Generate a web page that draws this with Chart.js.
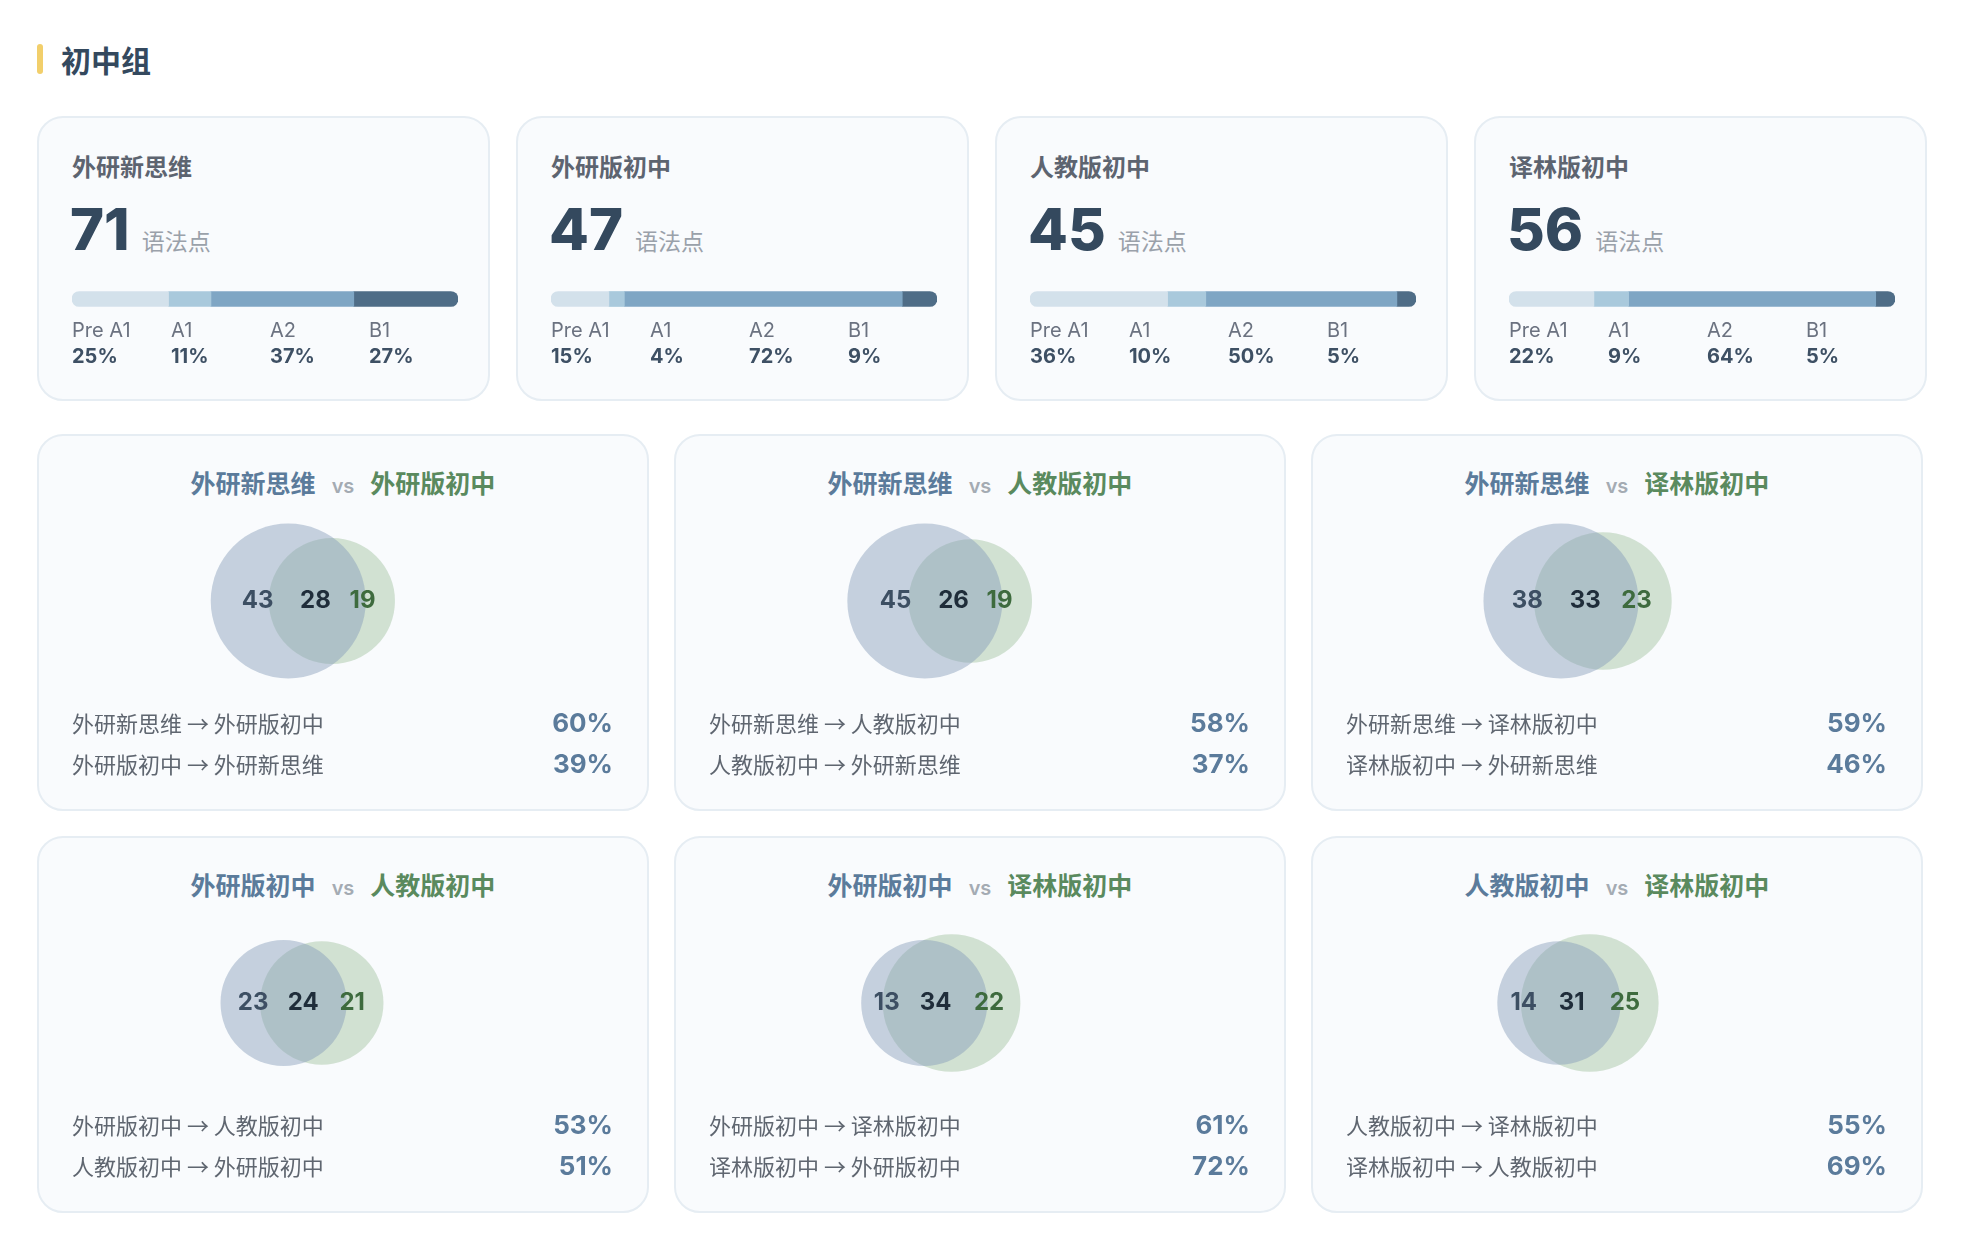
<!DOCTYPE html>
<html><head><meta charset="utf-8">
<script src="https://cdn.jsdelivr.net/npm/chart.js@4"></script>
<style>
*{box-sizing:border-box;margin:0;padding:0}
body{width:1962px;height:1250px;background:#fff;font-family:Inter,"Noto Sans CJK SC",sans-serif;position:relative;overflow:hidden}
.h{position:absolute;left:37px;top:42px;height:34px;display:flex;align-items:center}
.h i{display:block;width:6px;height:30px;border-radius:3px;background:#f2cf6b;margin-right:18px}
.h span{font-size:30px;font-weight:700;color:#34495e;font-family:"Noto Sans CJK SC"}
.card{position:absolute;background:#f9fbfd;border:2px solid #e6edf3;border-radius:26px}
.t{position:absolute;left:33px;top:30px;font-size:24px;font-weight:700;color:#5d6470;font-family:"Noto Sans CJK SC"}
.num{position:absolute;left:31px;top:76px;font-size:58px;font-weight:800;color:#34495e;line-height:70px}
.unit{font-size:23px;font-weight:400;color:#9aa1aa;margin-left:12px;font-family:"Noto Sans CJK SC"}
.bar{position:absolute;left:33px;top:156px;width:386px;height:50px}
.lv{position:absolute;top:200px;font-size:20px;color:#6b7280}
.pc{position:absolute;top:226px;font-size:20px;font-weight:700;color:#3e5064}
.vt{position:absolute;left:0;right:0;top:28px;text-align:center;font-size:25px;font-weight:700;font-family:"Noto Sans CJK SC"}
.vt .a{color:#5b7b9b}.vt .b{color:#5a8a5e}.vt .v{color:#a4abb3;font-size:20px;font-weight:600;margin:0 16px;font-family:Inter}
.vc{position:absolute;left:0;top:55px;width:612px;height:220px}
.row{position:absolute;left:33px;right:34px;display:flex;justify-content:space-between;align-items:center}
.row .l{font-size:22px;color:#5f6670;font-family:"Noto Sans CJK SC"}
.row .r{font-size:26px;font-weight:700;color:#5b7b9b}
</style></head><body>
<div class="h"><i></i><span>初中组</span></div>
<div id="root"></div>
<script>
const books = ["外研新思维","外研版初中","人教版初中","译林版初中"];
const totals = [71,47,45,56];
const levels = ["Pre A1","A1","A2","B1"];
const levelPct = [[25,11,37,27],[15,4,72,9],[36,10,50,5],[22,9,64,5]];
const levelColors = ["#d3e1eb","#a9c9dc","#7fa6c4","#4f6d87"];
const pairs = [[0,1],[0,2],[0,3],[1,2],[1,3],[2,3]];
const overlaps = [28,26,33,24,34,31];
const coverAB = [60,58,59,53,61,55];
const coverBA = [39,37,46,51,72,69];

const root=document.getElementById('root');
const K=9.2;
function el(tag,cls,parent,html){const e=document.createElement(tag);if(cls)e.className=cls;if(html!=null)e.innerHTML=html;parent.appendChild(e);return e;}

books.forEach((b,i)=>{
  const c=el('div','card',root);
  c.style.left=(37+i*479)+'px';c.style.top='116px';c.style.width='453px';c.style.height='285px';
  el('div','t',c,b);
  el('div','num',c,totals[i]+'<span class="unit">语法点</span>');
  const bw=el('div','bar',c);const cv=el('canvas',null,bw);cv.width=386;cv.height=50;
  levels.forEach((lv,j)=>{
    const a=el('div','lv',c,lv);a.style.left=(33+j*99)+'px';
    const p=el('div','pc',c,levelPct[i][j]+'%');p.style.left=(33+j*99)+'px';
  });
  const n=levels.length;
  new Chart(cv,{type:'bar',data:{labels:[''],datasets:levels.map((lv,j)=>({label:lv,data:[levelPct[i][j]],backgroundColor:levelColors[j],borderSkipped:false,
    borderRadius: j===0?{topLeft:8,bottomLeft:8}:(j===n-1?{topRight:8,bottomRight:8}:0),barThickness:15}))},
    options:{indexAxis:'y',responsive:false,animation:false,maintainAspectRatio:false,layout:{padding:0},
      plugins:{legend:{display:false},tooltip:{enabled:false}},
      scales:{x:{stacked:true,display:false,min:0,max:levelPct[i].reduce((s,v)=>s+v,0)},y:{stacked:true,display:false}}}});
});

function lens(r1,r2,d){
  if(d>=r1+r2)return 0; if(d<=Math.abs(r1-r2))return Math.PI*Math.min(r1,r2)**2;
  const a=r1*r1*Math.acos((d*d+r1*r1-r2*r2)/(2*d*r1)), b=r2*r2*Math.acos((d*d+r2*r2-r1*r1)/(2*d*r2));
  return a+b-0.5*Math.sqrt((-d+r1+r2)*(d+r1-r2)*(d-r1+r2)*(d+r1+r2));
}
const vennLabels={id:'vl',afterDatasetsDraw(ch){
  const o=ch.options.plugins.vl, xs=ch.scales.x, ys=ch.scales.y, ctx=ch.ctx;
  ctx.save();ctx.font='700 24px Inter';ctx.textAlign='center';ctx.textBaseline='middle';
  const y=ys.getPixelForValue(0);
  o.items.forEach(it=>{ctx.fillStyle=it.c;ctx.fillText(it.t,xs.getPixelForValue(it.x),y);});
  ctx.restore();}};

pairs.forEach(([a,b],k)=>{
  const c=el('div','card',root);
  const col=k%3,row=Math.floor(k/3);
  c.style.left=(37+col*637)+'px';c.style.top=(434+row*402)+'px';c.style.width='612px';c.style.height='377px';
  el('div','vt',c,`<span class="a">${books[a]}</span><span class="v">vs</span><span class="b">${books[b]}</span>`);
  const wrap=el('div','vc',c);const cv=el('canvas',null,wrap);cv.width=612;cv.height=220;
  const ra=Math.sqrt(totals[a]),rb=Math.sqrt(totals[b]);
  const target=overlaps[k]/totals[a]*Math.PI*ra*ra;
  let lo=Math.abs(ra-rb),hi=ra+rb;
  for(let t=0;t<60;t++){const m=(lo+hi)/2; if(lens(ra,rb,m)>target)lo=m;else hi=m;}
  const d=(lo+hi)/2;
  const left=-ra,right=Math.max(ra,d+rb),mid=(left+right)/2;
  const bl=d-rb, ar=ra;
  new Chart(cv,{type:'bubble',data:{datasets:[
    {data:[{x:0,y:0,r:ra*K}],backgroundColor:'rgba(132,156,184,0.45)',borderWidth:0,clip:false},
    {data:[{x:d,y:0,r:rb*K}],backgroundColor:'rgba(160,194,158,0.45)',borderWidth:0,clip:false}]},
    options:{responsive:false,animation:false,layout:{padding:0},
      plugins:{legend:{display:false},tooltip:{enabled:false},
        vl:{items:[{t:totals[a]-overlaps[k],x:(left+bl)/2,c:'#3d4f63'},{t:overlaps[k],x:(bl+ar)/2,c:'#1f2d3a'},{t:totals[b]-overlaps[k],x:(ar+d+rb)/2,c:'#3e6b3e'}]}},
      scales:{x:{type:'linear',display:false,min:mid-252/K,max:mid+(612-252)/K},y:{display:false,min:-110/K,max:110/K}}},
    plugins:[vennLabels]});
  const r1=el('div','row',c,`<span class="l">${books[a]} → ${books[b]}</span><span class="r">${coverAB[k]}%</span>`);r1.style.top='270px';
  const r2=el('div','row',c,`<span class="l">${books[b]} → ${books[a]}</span><span class="r">${coverBA[k]}%</span>`);r2.style.top='311px';
});
</script></body></html>
